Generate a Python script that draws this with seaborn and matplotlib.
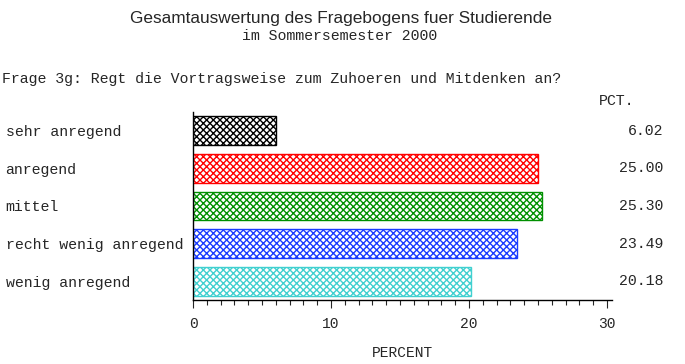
#! /usr/bin/env python3

import matplotlib.pyplot as plt
from matplotlib.ticker import MultipleLocator
import seaborn as sns

sns.set_style("ticks")
plt.rcParams["font.family"] = ["Liberation Mono", "DejaVu Sans Mono"]
plt.rcParams["hatch.linewidth"] = 1.0

# data
categories = [
    "sehr anregend",
    "anregend",
    "mittel",
    "recht wenig anregend",
    "wenig anregend",
]
percents = [6.02, 25.00, 25.30, 23.49, 20.18]
colors = ["#000000", "#ff0000", "#009000", "#1a3cff", "#40d0d0"]
xticks = [0, 10, 20, 30]

W, H = 685, 364
fig = plt.figure(figsize=(W / 100, H / 100), dpi=100)
# axes box in pixels: x 193..612, y 112..300
ax = fig.add_axes([193 / W, 1 - 300 / H, 419 / W, 188 / H])

sns.barplot(
    x=percents,
    y=categories,
    hue=categories,
    palette=colors,
    orient="h",
    width=0.77,
    legend=False,
    ax=ax,
)
for patch, c in zip(ax.patches, colors):
    patch.set_facecolor("white")
    patch.set_edgecolor(c)
    patch.set_hatch("xxxxx")
    patch.set_linewidth(1.0)

ax.set_xlim(0, 30 * 419 / 414)
ax.set_ylim(4.5, -0.5)
ax.set_xticks(xticks)
ax.xaxis.set_minor_locator(MultipleLocator(1))
ax.tick_params(axis="x", which="major", length=6, width=0.8, pad=6, labelsize=10.5)
ax.tick_params(axis="x", which="minor", length=3.6, width=0.8)
ax.tick_params(axis="y", length=0, pad=135, labelsize=10.7)
for lab in ax.get_yticklabels():
    lab.set_horizontalalignment("left")
ax.set_ylabel("")
ax.set_xlabel("PERCENT", fontsize=10.5, labelpad=11)
sns.despine(ax=ax)
for s in ["left", "bottom"]:
    ax.spines[s].set_linewidth(1.0)
    ax.spines[s].set_color("black")

# percentages on the right
tr = ax.get_yaxis_transform()
for i, v in enumerate(percents):
    ax.text((663 - 193) / 419, i, f"{v:.2f}", transform=tr, ha="right",
            va="center", fontsize=10.7)
ax.text((634 - 193) / 419, -0.5 - 0.3, "PCT.", transform=tr, ha="right",
        va="center", fontsize=10.7)

# titles
fig.text(341 / W, 1 - 18 / H, "Gesamtauswertung des Fragebogens fuer Studierende",
         ha="center", va="center", fontsize=12.4, family=["Liberation Sans", "DejaVu Sans"])
fig.text(340 / W, 1 - 36 / H, "im Sommersemester 2000", ha="center",
         va="center", fontsize=10.7)
fig.text(2 / W, 1 - 79 / H,
         "Frage 3g: Regt die Vortragsweise zum Zuhoeren und Mitdenken an?",
         ha="left", va="center", fontsize=10.7)

fig.savefig("out.png", dpi=100)
